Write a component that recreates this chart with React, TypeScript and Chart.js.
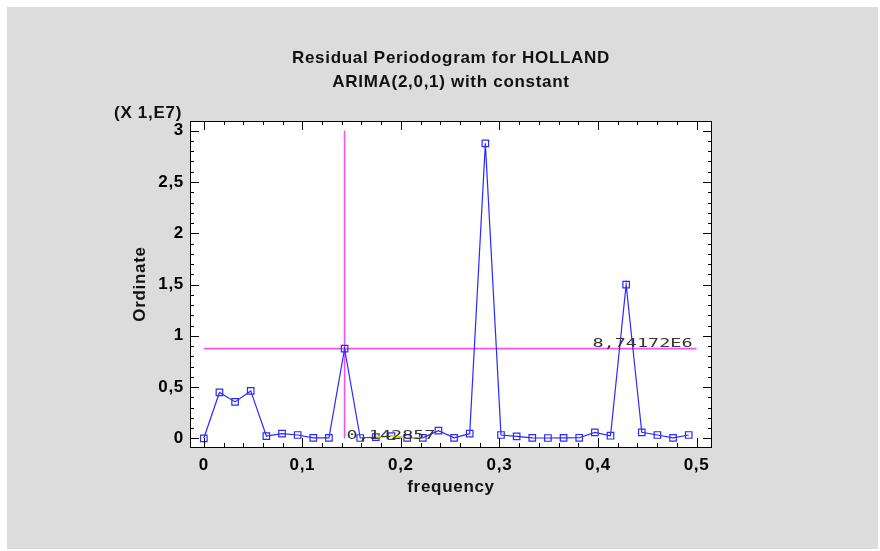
import React, { useEffect, useRef } from 'react';
import { Chart, registerables } from 'chart.js';

Chart.register(...registerables);

const TITLE = 'Residual Periodogram for HOLLAND';
const SUBTITLE = 'ARIMA(2,0,1) with constant';
const X_TITLE = 'frequency';
const Y_TITLE = 'Ordinate';
const Y_MULTIPLIER_LABEL = '(X 1,E7)';

const FREQUENCIES = [
  0, 0.015873, 0.031746, 0.047619, 0.063492, 0.079365, 0.095238, 0.111111,
  0.126984, 0.142857, 0.15873, 0.174603, 0.190476, 0.206349, 0.222222, 0.238095,
  0.253968, 0.269841, 0.285714, 0.301587, 0.31746, 0.333333, 0.349206, 0.365079,
  0.380952, 0.396825, 0.412698, 0.428571, 0.444444, 0.460317, 0.47619, 0.492063,
];

// ordinate values in units of 1E7
const ORDINATES = [
  0.0, 0.447, 0.355, 0.462, 0.022, 0.045, 0.032, 0.004,
  0.004, 0.874172, 0.003, 0.012, 0.022, 0.004, 0.004, 0.074,
  0.004, 0.045, 2.877, 0.032, 0.019, 0.004, 0.003, 0.004,
  0.005, 0.058, 0.025, 1.498, 0.058, 0.032, 0.004, 0.032,
];

const HIGHLIGHT_START = 11;
const HIGHLIGHT_END = 14;

const X_TICKS = [0, 0.1, 0.2, 0.3, 0.4, 0.5];
const X_TICK_LABELS = ['0', '0,1', '0,2', '0,3', '0,4', '0,5'];
const Y_TICKS = [0, 0.5, 1, 1.5, 2, 2.5, 3];
const Y_TICK_LABELS = ['0', '0,5', '1', '1,5', '2', '2,5', '3'];

const MARKED_FREQUENCY = 0.142857;
const MARKED_ORDINATE = 0.874172;
const MARKED_FREQUENCY_LABEL = '0,142857';
const MARKED_ORDINATE_LABEL = '8,74172E6';

const X_MIN = -0.014;
const X_MAX = 0.5157;
const Y_MIN = -0.085;
const Y_MAX = 3.095;

const BOLD_FONT = '"Liberation Sans", Arial, sans-serif';
const FONT_SIZE = 17;
const LETTER_SPACING = '0.7px';

const decorPlugin = {
  id: 'decor',
  beforeDraw(chart: any) {
    const { ctx, chartArea, width, height } = chart;
    ctx.letterSpacing = LETTER_SPACING;
    ctx.save();
    ctx.fillStyle = '#ffffff';
    ctx.fillRect(0, 0, width, height);
    ctx.fillStyle = '#dcdcdc';
    ctx.fillRect(7, 7, 871, 542);
    ctx.fillStyle = '#ffffff';
    ctx.fillRect(chartArea.left, chartArea.top, chartArea.right - chartArea.left, chartArea.bottom - chartArea.top);
    ctx.restore();
  },
  afterDraw(chart: any) {
    const { ctx, chartArea } = chart;
    const xs = chart.scales.x;
    const ys = chart.scales.y;
    const { left, right, top, bottom } = chartArea;
    ctx.save();
    // frame
    ctx.strokeStyle = '#000000';
    ctx.lineWidth = 1;
    ctx.strokeRect(Math.round(left) + 0.5, Math.round(top) + 0.5, Math.round(right - left) - 1, Math.round(bottom - top));
    // ticks
    const MAJ = 9;
    const MIN = 4;
    ctx.beginPath();
    const xStep = 0.02;
    for (let i = 0; i <= 25; i++) {
      const v = i * xStep;
      const px = Math.round(xs.getPixelForValue(v)) + 0.5;
      const len = i % 5 === 0 ? MAJ : MIN;
      ctx.moveTo(px, bottom);
      ctx.lineTo(px, bottom - len);
      ctx.moveTo(px, top);
      ctx.lineTo(px, top + len);
    }
    const yStep = 0.1;
    for (let i = 0; i <= 30; i++) {
      const v = i * yStep;
      const py = Math.round(ys.getPixelForValue(v)) + 0.5;
      const len = i % 5 === 0 ? MAJ : MIN;
      ctx.moveTo(left, py);
      ctx.lineTo(left + len, py);
      ctx.moveTo(right, py);
      ctx.lineTo(right - len, py);
    }
    ctx.stroke();

    // titles
    const cx = (left + right) / 2;
    ctx.letterSpacing = LETTER_SPACING;
    ctx.fillStyle = '#111111';
    ctx.font = `bold ${FONT_SIZE}px ${BOLD_FONT}`;
    ctx.textAlign = 'center';
    ctx.textBaseline = 'alphabetic';
    ctx.fillText(TITLE, cx, 63);
    ctx.fillText(SUBTITLE, cx, 87);

    ctx.textAlign = 'right';
    ctx.fillText(Y_MULTIPLIER_LABEL, 182, 118);

    // digital-style labels
    ctx.letterSpacing = '0px';
    ctx.fillStyle = '#333333';
    ctx.font = '13px "DejaVu Sans Mono", monospace';
    const oy = ys.getPixelForValue(MARKED_ORDINATE) - 2;
    const ox = xs.getPixelForValue(0.5) - 4;
    ctx.save();
    ctx.translate(ox, oy);
    ctx.scale(1.42, 1);
    ctx.textAlign = 'right';
    ctx.fillText(MARKED_ORDINATE_LABEL, 0, 0);
    ctx.restore();

    const fx = xs.getPixelForValue(MARKED_FREQUENCY) + 2;
    const fy = ys.getPixelForValue(0) + 1;
    ctx.save();
    ctx.translate(fx, fy);
    ctx.scale(1.42, 1);
    ctx.textAlign = 'left';
    ctx.fillText(MARKED_FREQUENCY_LABEL, 0, 0);
    ctx.restore();

    ctx.restore();
  },
};

export default function App() {
  const canvasRef = useRef<HTMLCanvasElement | null>(null);

  useEffect(() => {
    const canvas = canvasRef.current;
    if (!canvas) return;
    const points = FREQUENCIES.map((f, i) => ({ x: f, y: ORDINATES[i] }));
    const highlight = FREQUENCIES.map((f, i) => ({
      x: f,
      y: i >= HIGHLIGHT_START && i <= HIGHLIGHT_END ? ORDINATES[i] : null,
    }));
    const chart = new Chart(canvas, {
      type: 'line',
      data: {
        datasets: [
          {
            label: 'vertical',
            data: [
              { x: MARKED_FREQUENCY, y: 0 },
              { x: MARKED_FREQUENCY, y: 3 },
            ],
            borderColor: '#f055f0',
            borderWidth: 1.6,
            pointRadius: 0,
            order: 3,
          },
          {
            label: 'horizontal',
            data: [
              { x: 0, y: MARKED_ORDINATE },
              { x: 0.5, y: MARKED_ORDINATE },
            ],
            borderColor: '#f055f0',
            borderWidth: 1.6,
            pointRadius: 0,
            order: 3,
          },
          {
            label: 'Ordinate',
            data: points,
            borderColor: '#2a2aff',
            borderWidth: 1.2,
            pointStyle: 'rect',
            pointRadius: 4.6,
            pointBorderWidth: 1.2,
            pointBorderColor: '#2a2aff',
            pointBackgroundColor: 'rgba(255,255,255,0)',
            order: 2,
          },
          {
            label: 'highlight',
            data: highlight as any,
            borderColor: '#f0e000',
            borderWidth: 1.4,
            pointRadius: 0,
            spanGaps: false,
            order: 1,
          },
        ],
      },
      options: {
        animation: false,
        responsive: false,
        layout: { padding: { left: 0, top: 121, right: 168, bottom: 0 } },
        plugins: {
          legend: { display: false },
          tooltip: { enabled: false },
          title: { display: false },
        },
        scales: {
          x: {
            type: 'linear',
            min: X_MIN,
            max: X_MAX,
            grid: { display: false, drawTicks: false },
            border: { display: false },
            afterFit: (scale: any) => {
              scale.height = 104;
            },
            afterBuildTicks: (scale: any) => {
              scale.ticks = X_TICKS.map((v) => ({ value: v }));
            },
            ticks: {
              padding: 8,
              color: '#000000',
              font: { family: BOLD_FONT, size: FONT_SIZE, weight: 'bold' },
              maxRotation: 0,
              autoSkip: false,
              callback: (_v: any, i: number) => X_TICK_LABELS[i],
            },
            title: {
              display: true,
              text: X_TITLE,
              color: '#111111',
              font: { family: BOLD_FONT, size: FONT_SIZE, weight: 'bold' },
              padding: { top: 0, bottom: 53 },
            },
          },
          y: {
            type: 'linear',
            min: Y_MIN,
            max: Y_MAX,
            grid: { display: false, drawTicks: false },
            border: { display: false },
            afterFit: (scale: any) => {
              scale.width = 190;
            },
            afterBuildTicks: (scale: any) => {
              scale.ticks = Y_TICKS.map((v) => ({ value: v }));
            },
            ticks: {
              padding: 6,
              color: '#000000',
              font: { family: BOLD_FONT, size: FONT_SIZE, weight: 'bold' },
              autoSkip: false,
              callback: (_v: any, i: number) => Y_TICK_LABELS[i],
            },
            title: {
              display: true,
              text: Y_TITLE,
              color: '#111111',
              font: { family: BOLD_FONT, size: FONT_SIZE, weight: 'bold' },
              padding: { top: 130, bottom: 0 },
            },
          },
        },
      },
      plugins: [decorPlugin],
    });
    return () => chart.destroy();
  }, []);

  return (
    <div style={{ position: 'absolute', left: 0, top: 0, width: 880, height: 551 }}>
      <canvas ref={canvasRef} width={880} height={551} style={{ display: 'block' }} />
    </div>
  );
}
